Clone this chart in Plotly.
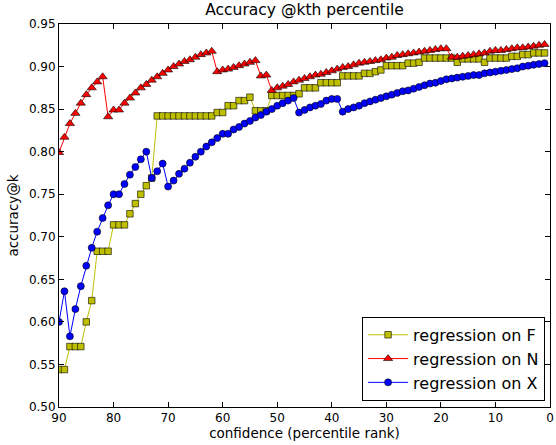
import plotly.graph_objects as go

k = list(range(90, 0, -1))

acc_F = [0.544, 0.544, 0.571, 0.571, 0.571, 0.600, 0.625, 0.683, 0.683, 0.683,
         0.714, 0.714, 0.714, 0.727, 0.739, 0.750, 0.760, 0.769, 0.842, 0.842,
         0.842, 0.842, 0.842, 0.842, 0.842, 0.842, 0.842, 0.842, 0.842, 0.846,
         0.846, 0.854, 0.854, 0.860, 0.860, 0.864, 0.848, 0.848, 0.848, 0.866,
         0.866, 0.866, 0.866, 0.866, 0.868, 0.875, 0.875, 0.875, 0.881, 0.881,
         0.881, 0.881, 0.889, 0.889, 0.889, 0.889, 0.892, 0.892, 0.894, 0.896,
         0.901, 0.901, 0.901, 0.901, 0.904, 0.904, 0.905, 0.910, 0.910, 0.910,
         0.910, 0.910, 0.910, 0.905, 0.909, 0.909, 0.909, 0.909, 0.905, 0.910,
         0.910, 0.910, 0.910, 0.912, 0.912, 0.914, 0.914, 0.916, 0.916, 0.916][:90]

acc_N = [0.799, 0.817, 0.833, 0.845, 0.857, 0.867, 0.875, 0.882, 0.888, 0.841,
         0.849, 0.849, 0.857, 0.863, 0.869, 0.875, 0.879, 0.884, 0.888, 0.892,
         0.896, 0.900, 0.903, 0.906, 0.908, 0.911, 0.914, 0.916, 0.918, 0.894,
         0.896, 0.897, 0.899, 0.901, 0.903, 0.905, 0.907, 0.889, 0.890, 0.872,
         0.875, 0.877, 0.879, 0.882, 0.884, 0.886, 0.888, 0.890, 0.891, 0.893,
         0.895, 0.897, 0.899, 0.900, 0.902, 0.904, 0.905, 0.906, 0.907, 0.908,
         0.910, 0.911, 0.913, 0.914, 0.915, 0.916, 0.917, 0.918, 0.919, 0.920,
         0.921, 0.921, 0.911, 0.911, 0.912, 0.913, 0.914, 0.915, 0.916, 0.918,
         0.919, 0.919, 0.920, 0.921, 0.922, 0.922, 0.923, 0.924, 0.925, 0.926]

acc_X = [0.600, 0.636, 0.583, 0.615, 0.642, 0.666, 0.687, 0.706, 0.722, 0.737,
         0.750, 0.750, 0.762, 0.773, 0.782, 0.791, 0.800, 0.769, 0.777, 0.786,
         0.759, 0.766, 0.774, 0.780, 0.787, 0.794, 0.800, 0.806, 0.811, 0.816,
         0.821, 0.821, 0.826, 0.829, 0.833, 0.836, 0.840, 0.843, 0.847, 0.850,
         0.854, 0.857, 0.860, 0.863, 0.846, 0.849, 0.852, 0.854, 0.856, 0.860,
         0.862, 0.862, 0.847, 0.850, 0.852, 0.854, 0.857, 0.859, 0.861, 0.863,
         0.865, 0.867, 0.869, 0.871, 0.872, 0.874, 0.876, 0.878, 0.880, 0.881,
         0.883, 0.885, 0.886, 0.887, 0.888, 0.889, 0.890, 0.890, 0.892, 0.893,
         0.894, 0.895, 0.896, 0.897, 0.898, 0.900, 0.901, 0.902, 0.903, 0.904]

x_ticks = [90, 80, 70, 60, 50, 40, 30, 20, 10, 0]
y_ticks = [0.50, 0.55, 0.60, 0.65, 0.70, 0.75, 0.80, 0.85, 0.90, 0.95]

FONT = "DejaVu Sans"

fig = go.Figure()
fig.add_trace(go.Scatter(
    x=k, y=acc_F, mode="lines+markers", name="regression on F",
    line=dict(color="rgb(191,191,0)", width=1),
    marker=dict(symbol="square", size=6.5, color="rgb(191,191,0)",
                line=dict(color="black", width=0.6))))
fig.add_trace(go.Scatter(
    x=k, y=acc_N, mode="lines+markers", name="regression on N",
    line=dict(color="red", width=1),
    marker=dict(symbol="triangle-up", size=8, color="red",
                line=dict(color="black", width=0.6))))
fig.add_trace(go.Scatter(
    x=k, y=acc_X, mode="lines+markers", name="regression on X",
    line=dict(color="blue", width=1),
    marker=dict(symbol="circle", size=7, color="blue",
                line=dict(color="black", width=0.6))))

axis_common = dict(showgrid=False, zeroline=False, showline=True,
                   linecolor="black", linewidth=1, mirror="allticks",
                   ticks="inside", ticklen=5, tickwidth=1, tickcolor="black",
                   ticklabeloverflow="allow",
                   tickfont=dict(family=FONT, size=12, color="black"))

fig.update_xaxes(range=[90, 0], tickvals=x_ticks,
                 ticktext=[str(v) for v in x_ticks],
                 title=dict(text="confidence (percentile rank)",
                            font=dict(family=FONT, size=13.5, color="black"),
                            standoff=4),
                 **axis_common)
fig.update_yaxes(range=[0.5, 0.95], tickvals=y_ticks,
                 ticktext=[f"{v:.2f}" for v in y_ticks],
                 title=dict(text="accuracy@k",
                            font=dict(family=FONT, size=13.5, color="black"),
                            standoff=7),
                 **axis_common)

fig.update_layout(
    width=556, height=445,
    margin=dict(l=59, r=6, t=24, b=38, autoexpand=False),
    paper_bgcolor="white", plot_bgcolor="white",
    title=dict(text="Accuracy @kth percentile", x=0.5, xref="paper",
               y=1, yref="container", yanchor="top", pad=dict(t=4),
               font=dict(family=FONT, size=15.5, color="black")),
    font=dict(family=FONT, color="black"),
    legend=dict(x=0.99, y=0.016, xanchor="right", yanchor="bottom",
                bordercolor="black", borderwidth=1, bgcolor="white",
                font=dict(family=FONT, size=16, color="black"),
                itemwidth=40, tracegroupgap=0),
    showlegend=True,
)

fig.write_html("out.html", config={"displayModeBar": False},
               post_script="document.body.style.margin='0';document.body.style.overflow='hidden';")
